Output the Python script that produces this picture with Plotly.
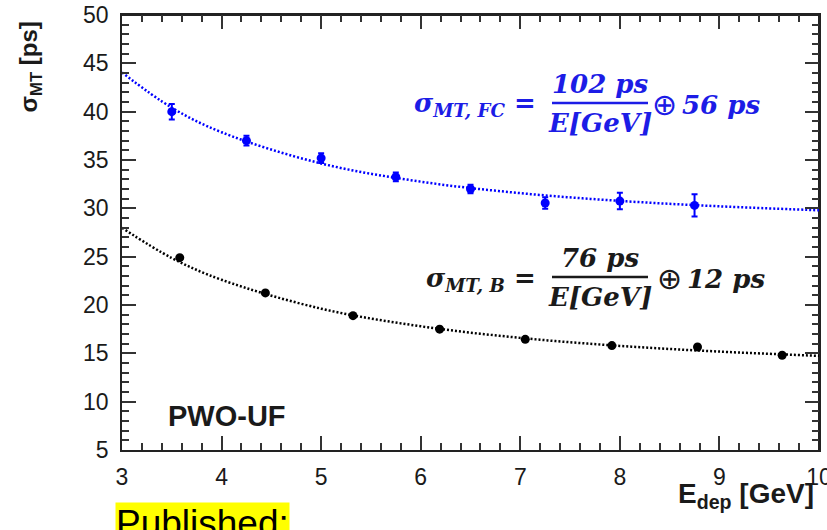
import plotly.graph_objects as go

# ---- data ----
blue_E = [3.5, 4.25, 5.0, 5.75, 6.5, 7.25, 8.0, 8.75]
blue_sigma = [40.0, 37.0, 35.2, 33.25, 32.0, 30.55, 30.75, 30.3]
blue_err = [0.8, 0.5, 0.5, 0.45, 0.45, 0.6, 0.85, 1.15]

black_E = [3.58, 4.44, 5.32, 6.19, 7.05, 7.92, 8.78, 9.63]
black_sigma = [24.9, 21.25, 18.9, 17.5, 16.45, 15.8, 15.65, 14.8]

fit_E = [3.0, 3.5, 4.0, 5.0, 6.0, 7.0, 8.0, 9.0, 10.0]
blue_fit = [44.05, 40.41, 37.87, 34.64, 32.76, 31.57, 30.77, 30.21, 29.80]
black_fit = [27.98, 24.86, 22.61, 19.62, 17.80, 16.60, 15.77, 15.18, 14.74]

x_range = [3, 10]
y_range = [5, 50]

W, H = 827, 530
L, R, T, B = 122, 819, 15, 450


def px(x):
    return (x - L) / (R - L)


def py(y):
    return (B - y) / (B - T)


BLUE = "#0000ff"
fig = go.Figure()

# top / right frame of the plot box, following the axis ranges
fig.add_trace(go.Scatter(x=[x_range[0], x_range[1], x_range[1]],
                         y=[y_range[1], y_range[1], y_range[0]],
                         mode="lines", line=dict(color="#222", width=2),
                         cliponaxis=False, hoverinfo="skip", showlegend=False))

fig.add_trace(go.Scatter(x=fit_E, y=blue_fit, mode="lines", line_shape="spline",
                         line=dict(color=BLUE, width=2.5, dash="2px,2px"),
                         hoverinfo="skip", showlegend=False))
fig.add_trace(go.Scatter(x=fit_E, y=black_fit, mode="lines", line_shape="spline",
                         line=dict(color="black", width=2.5, dash="2px,2px"),
                         hoverinfo="skip", showlegend=False))
fig.add_trace(go.Scatter(x=blue_E, y=blue_sigma, mode="markers",
                         marker=dict(color=BLUE, size=9),
                         error_y=dict(type="data", array=blue_err, color=BLUE,
                                      thickness=2, width=3),
                         showlegend=False))
fig.add_trace(go.Scatter(x=black_E, y=black_sigma, mode="markers",
                         marker=dict(color="black", size=9),
                         showlegend=False))

tick_common = dict(ticks="inside", ticklen=14, tickwidth=1.5, tickcolor="#333",
                   showgrid=False, zeroline=False, automargin=False,
                   showline=True, linecolor="#222", linewidth=1.5,
                   mirror="allticks")
font_ticks = dict(family="Liberation Sans", size=23, color="#1a1a1a")

xminor = dict(dtick=0.2, ticks="inside", ticklen=7, tickwidth=1.5,
              tickcolor="#333", showgrid=False)
yminor = dict(dtick=1, ticks="inside", ticklen=7, tickwidth=1.5,
              tickcolor="#333", showgrid=False)

fig.update_layout(
    xaxis=dict(range=x_range, dtick=1, tick0=3, minor=xminor, tickfont=font_ticks,
               ticklabelstandoff=6, ticklabeloverflow="allow", **tick_common),
    yaxis=dict(range=y_range, dtick=5, tick0=5, minor=yminor, tickfont=font_ticks,
               ticklabelstandoff=7, **tick_common),
)

ann = []
# axis titles
ann.append(dict(text="<b>σ<sub>MT</sub> [ps]</b>", textangle=-90,
                x=px(30), y=py(20), xanchor="center", yanchor="top",
                font=dict(family="Liberation Sans", size=24, color="#1a1a1a")))
ann.append(dict(text="<b>E<sub>dep</sub> [GeV]</b>",
                x=px(816), y=py(476), xanchor="right", yanchor="top",
                font=dict(family="Liberation Sans", size=28, color="#1a1a1a")))
ann.append(dict(text="<b>PWO-UF</b>",
                x=px(166), y=py(416), xanchor="left", yanchor="middle",
                font=dict(family="Liberation Sans", size=29, color="#1a1a1a")))
ann.append(dict(text="Published:", bgcolor="#ffff00", borderpad=0,
                x=px(115), y=py(502), xanchor="left", yanchor="top",
                font=dict(family="Liberation Sans", size=37, color="black")))

FF = "DejaVu Serif"
FS = 26


def formula(color, sub, num, const, yline, xplus):
    f = dict(family=FF, size=FS, color=color)
    ann.append(dict(text=f"<b><i>σ<sub>{sub}</sub> =</i></b>",
                    x=px(538), y=py(yline + 2), xanchor="right", yanchor="middle", font=f))
    ann.append(dict(text=f"<b><i>{num}</i></b>",
                    x=px(600), y=py(yline - 19), xanchor="center", yanchor="middle", font=f))
    ann.append(dict(text="<b><i>E[GeV]</i></b>",
                    x=px(600), y=py(yline + 20), xanchor="center", yanchor="middle", font=f))
    ann.append(dict(text="⊕",
                    x=px(xplus), y=py(yline + 1), xanchor="left", yanchor="middle",
                    font=dict(family="DejaVu Sans", size=30, color=color)))
    ann.append(dict(text=f"<b><i>{const}</i></b>",
                    x=px(xplus + 30), y=py(yline + 2), xanchor="left", yanchor="middle", font=f))
    fig.add_shape(type="line", xref="paper", yref="paper",
                  x0=px(552), x1=px(648), y0=py(yline), y1=py(yline),
                  line=dict(color=color, width=2.5))


formula("#1c1ce6", "MT, FC", "102 ps", "56 ps", 103, 650)
formula("#1a1a1a", "MT, B", "76 ps", "12 ps", 277, 655)

for a in ann:
    a.setdefault("xref", "paper")
    a.setdefault("yref", "paper")
    a.setdefault("showarrow", False)
fig.update_layout(annotations=ann)

fig.update_layout(width=W, height=H, plot_bgcolor="white", paper_bgcolor="white",
                  margin=dict(l=L, r=W - R, t=T, b=H - B, pad=0))

fig.write_html("out.html")
